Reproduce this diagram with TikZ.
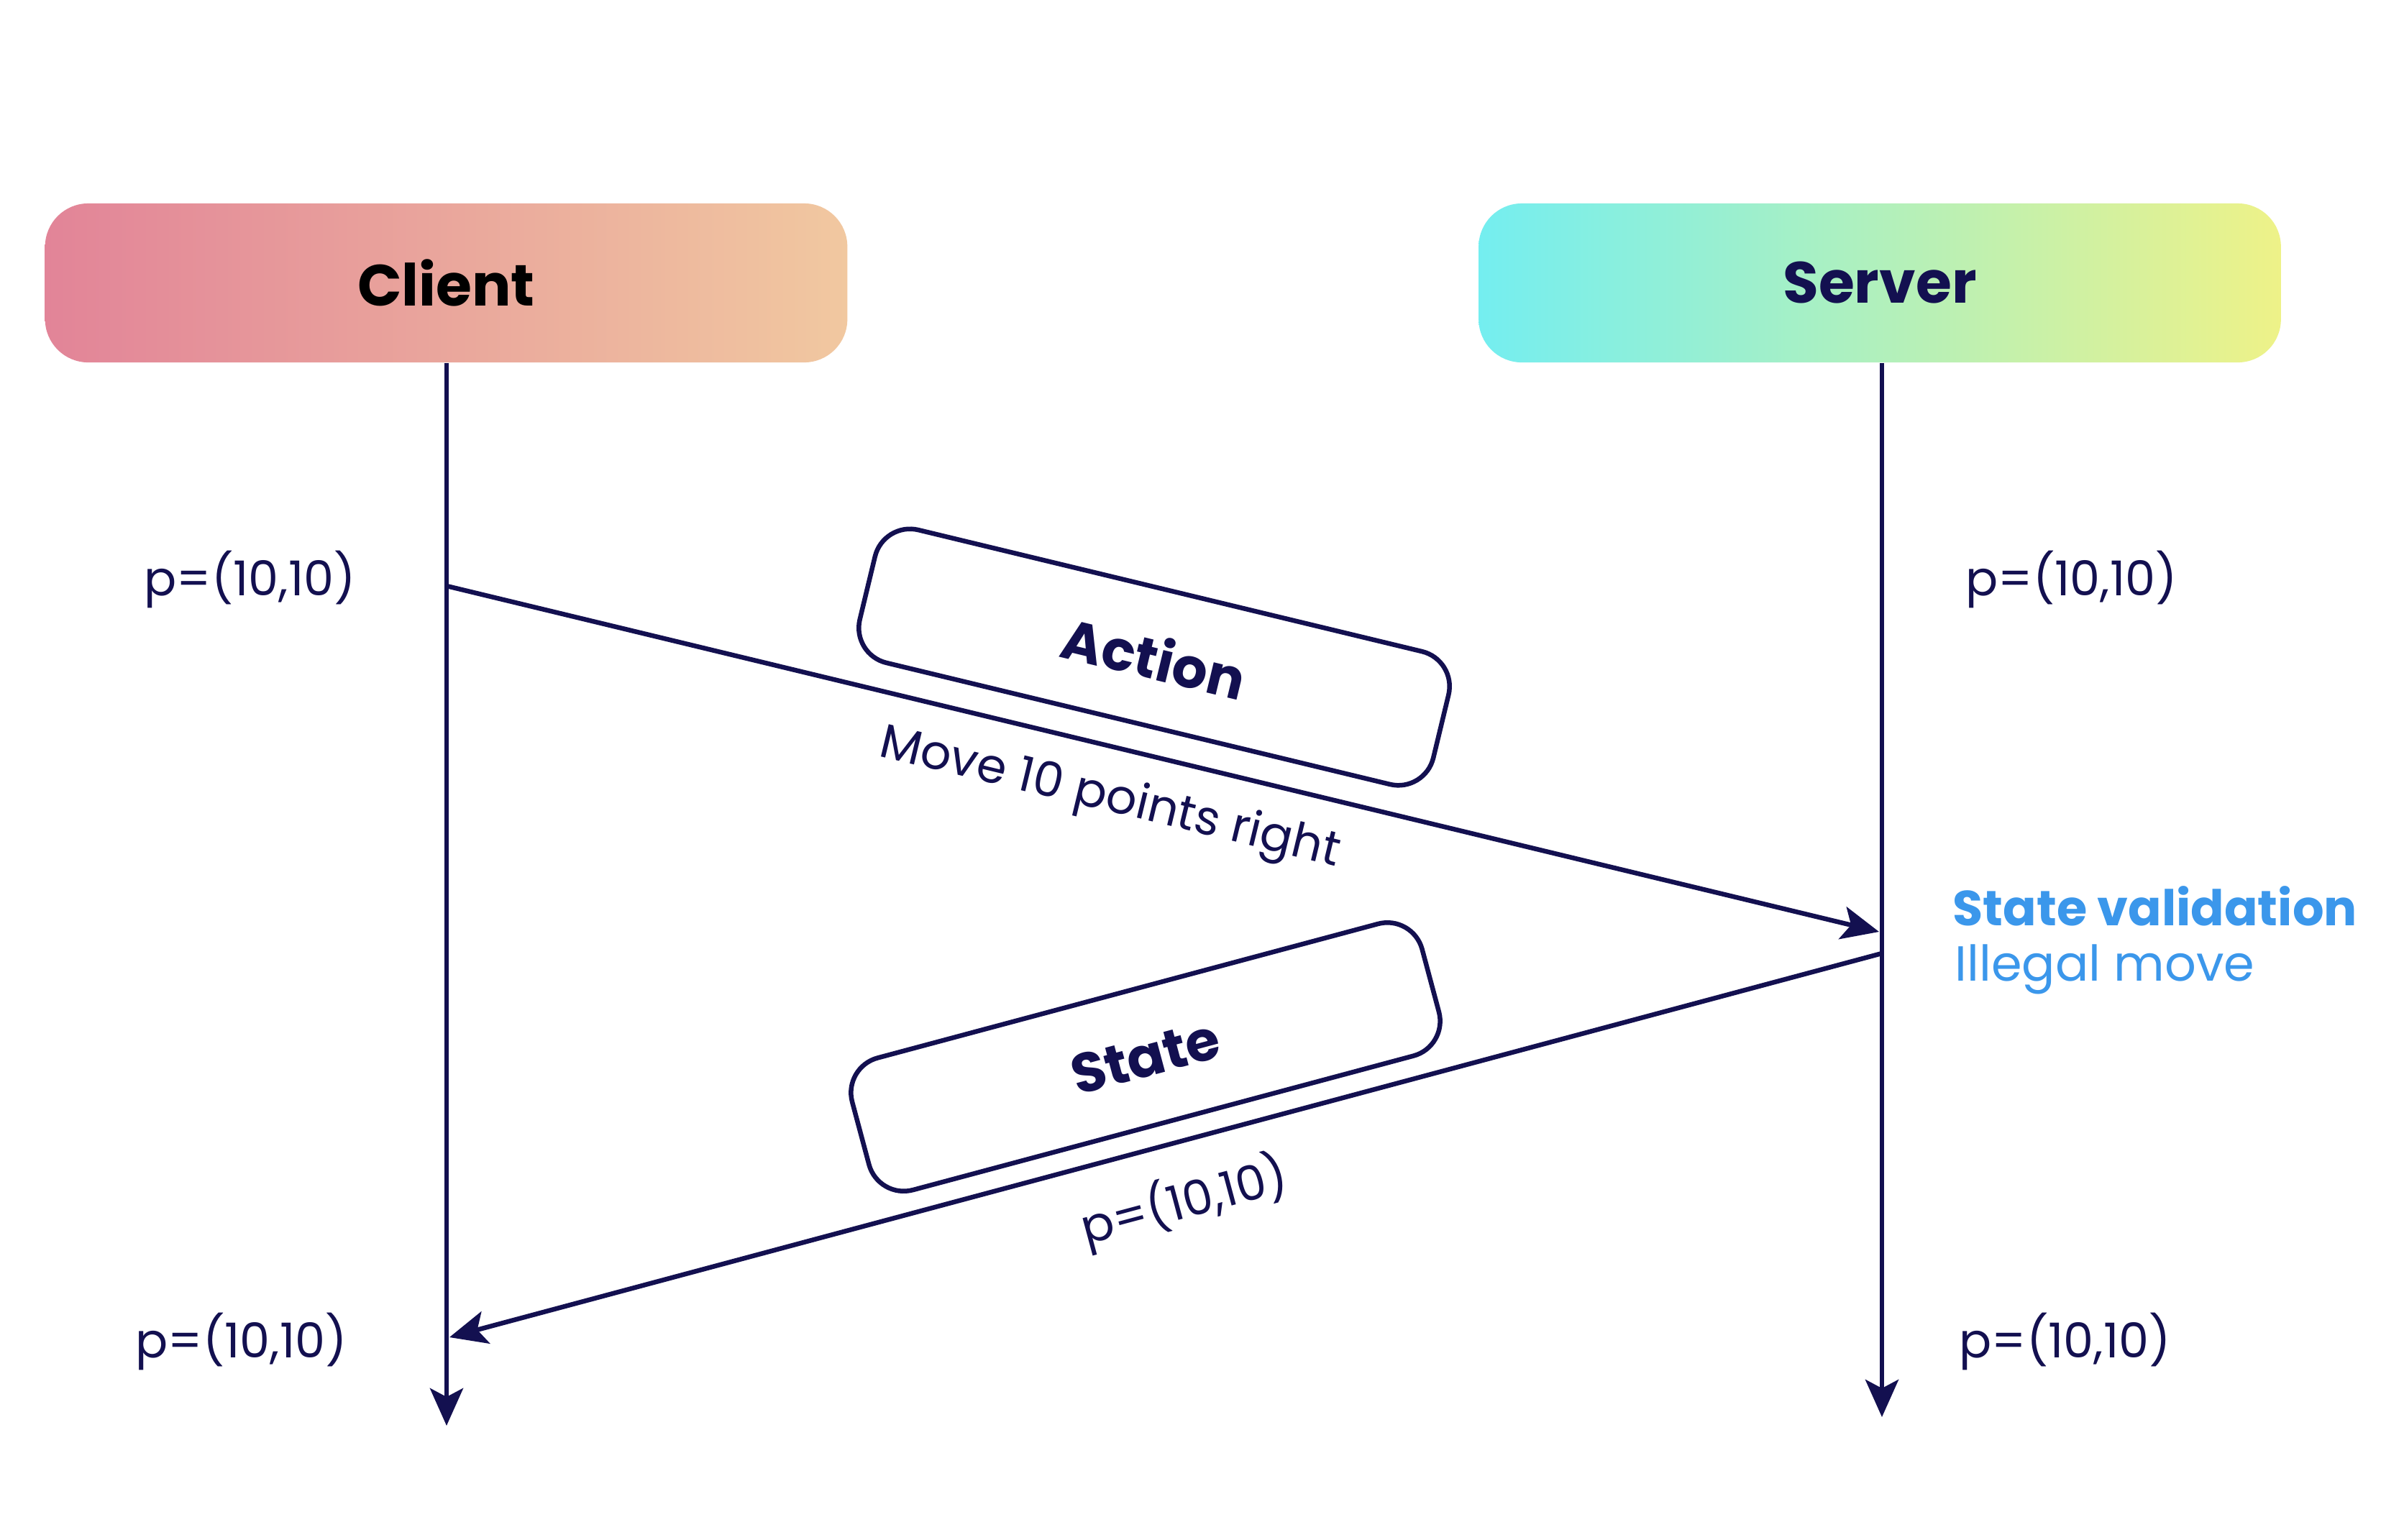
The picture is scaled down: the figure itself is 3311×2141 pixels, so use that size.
\documentclass[tikz,border=0pt]{standalone}
\usepackage{fontspec}
\setmainfont{Poppins}
\usetikzlibrary{arrows.meta}
\definecolor{navy}{RGB}{19,16,80}
\definecolor{vblue}{RGB}{59,151,235}
\definecolor{cleft}{RGB}{226,132,152}
\definecolor{cright}{RGB}{241,200,160}
\definecolor{sleft}{RGB}{116,238,240}
\definecolor{sright}{RGB}{238,242,136}
\begin{document}
\begin{tikzpicture}[x=0.01cm,y=-0.01cm,
  arr/.style={draw=navy, line width=0.065cm, -{Stealth[length=0.52cm,width=0.46cm,inset=0.12cm]}},
  head/.style={rounded corners=0.6cm, minimum width=11.15cm, minimum height=2.21cm, inner sep=0pt, font=\bfseries\fontsize{23}{28}\selectfont},
  msgbox/.style={draw=navy, line width=0.065cm, rounded corners=0.5cm, minimum width=8.2cm, minimum height=1.9cm, fill=white, text=navy, font=\bfseries\fontsize{22}{26}\selectfont},
  lbl/.style={text=navy, font=\fontsize{19}{23}\selectfont, inner sep=0pt},
  note/.style={text=vblue, font=\fontsize{19.5}{24}\selectfont, inner sep=0pt, anchor=base west},
]
\useasboundingbox (0,0) rectangle (3311,2141);
\fill[white] (0,0) rectangle (3311,2141);

% participants
\node[head, left color=cleft, right color=cright, text=black] (client) at (620.5,393.5) {Client};
\node[head, left color=sleft, right color=sright, text=navy] (server) at (2614,393.5) {Server};

% lifelines
\coordinate (cend) at (621,1983);
\coordinate (send) at (2617,1971);
\draw[arr] (client.south -| cend) -- (cend);
\draw[arr] (server.south -| send) -- (send);

% message endpoints
\coordinate (a1) at (621,815);
\coordinate (a2) at (2613,1296);
\coordinate (b1) at (2617,1326);
\coordinate (b2) at (625,1860);

\draw[arr] (a1) -- (a2);
\draw[arr] (b1) -- (b2);

% message boxes
\node[msgbox, rotate=-13.57] (action) at (1605,914) {Action};
\node[msgbox, rotate=15] (state) at (1593,1470) {State};

% message labels
\node[lbl, rotate=-13.57] (move) at (1543,1112) {Move 10 points right};
\node[lbl, rotate=15] (sp) at (1647,1672) {p=(10,10)};

% position labels
\node[lbl, anchor=base west] (pc1) at (200,828) {p=(10,10)};
\node[lbl, anchor=base west] (ps1) at (2733,828) {p=(10,10)};
\node[lbl, anchor=base west] (pc2) at (188,1888) {p=(10,10)};
\node[lbl, anchor=base west] (ps2) at (2724,1888) {p=(10,10)};

% validation note
\node[note, font=\bfseries\fontsize{19.5}{24}\selectfont] (val) at (2715,1287) {State validation};
\node[note] (ill) at (2718,1364) {Illegal move};
\end{tikzpicture}
\end{document}
